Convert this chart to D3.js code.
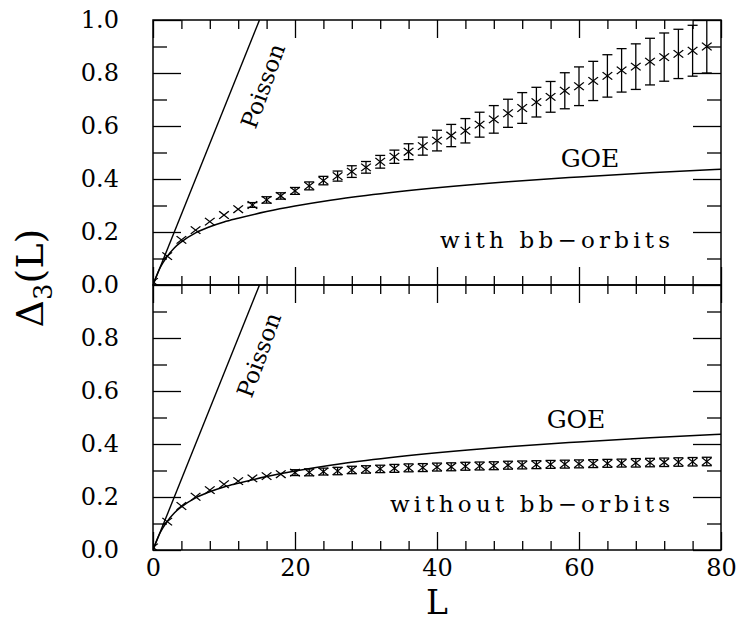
<!DOCTYPE html>
<html>
<head>
<meta charset="utf-8">
<script src="https://cdn.jsdelivr.net/npm/d3@7"></script>
<style>
  body { margin: 0; background: #fff; }
  svg { display: block; }
</style>
</head>
<body>
<script>
// L values of the measured points (both panels)
var Lvals = [0, 2, 4, 6, 8, 10, 12, 14, 16, 18, 20, 22, 24, 26, 28, 30, 32, 34, 36, 38,
             40, 42, 44, 46, 48, 50, 52, 54, 56, 58, 60, 62, 64, 66, 68, 70, 72, 74, 76, 78];

// top panel: with bb-orbits
var withBB = [0.012, 0.109, 0.170, 0.207, 0.239, 0.264, 0.286, 0.302, 0.321, 0.336,
              0.355, 0.374, 0.394, 0.411, 0.428, 0.444, 0.465, 0.484, 0.503, 0.524,
              0.545, 0.564, 0.582, 0.605, 0.625, 0.648, 0.668, 0.690, 0.710, 0.733,
              0.750, 0.770, 0.789, 0.810, 0.824, 0.843, 0.860, 0.872, 0.884, 0.900];
var withBBerr = [0, 0, 0, 0, 0, 0, 0, 0.009, 0.012, 0.012,
                 0.013, 0.015, 0.016, 0.019, 0.022, 0.022, 0.024, 0.025, 0.030, 0.034,
                 0.039, 0.042, 0.046, 0.047, 0.052, 0.053, 0.058, 0.056, 0.058, 0.068,
                 0.073, 0.074, 0.080, 0.082, 0.086, 0.088, 0.091, 0.093, 0.096, 0.100];

// bottom panel: without bb-orbits
var withoutBB = [0.010, 0.107, 0.166, 0.201, 0.226, 0.248, 0.260, 0.270, 0.279, 0.286,
                 0.292, 0.293, 0.296, 0.298, 0.302, 0.304, 0.306, 0.308, 0.310, 0.311,
                 0.313, 0.314, 0.316, 0.317, 0.318, 0.320, 0.321, 0.322, 0.323, 0.324,
                 0.325, 0.326, 0.327, 0.328, 0.329, 0.330, 0.331, 0.332, 0.333, 0.334];
var withoutBBerr = [0, 0, 0, 0, 0, 0, 0, 0, 0, 0,
                    0.011, 0.013, 0.013, 0.014, 0.014, 0.014, 0.014, 0.015, 0.015, 0.015,
                    0.015, 0.015, 0.015, 0.015, 0.015, 0.015, 0.015, 0.015, 0.015, 0.015,
                    0.015, 0.015, 0.015, 0.015, 0.016, 0.016, 0.016, 0.016, 0.016, 0.016];

// GOE curve
var goeL = [0, 0.5, 1, 2, 3, 4, 6, 8, 10, 12, 16, 20, 25, 30, 40, 50, 60, 70, 80];
var goeV = [0, 0.035, 0.065, 0.108, 0.140, 0.163, 0.197, 0.220, 0.238, 0.252,
            0.277, 0.298, 0.320, 0.338, 0.367, 0.390, 0.408, 0.424, 0.437];

// Poisson line
var poissonL = [0, 15];
var poissonV = [0, 1];

var xMajor = [0, 20, 40, 60, 80];
var xMinor = [4, 8, 12, 16, 24, 28, 32, 36, 44, 48, 52, 56, 64, 68, 72, 76];
var yMajorTop = [0, 0.2, 0.4, 0.6, 0.8, 1.0];
var yMajorBot = [0, 0.2, 0.4, 0.6, 0.8];
var yMinor = [0.1, 0.3, 0.5, 0.7, 0.9];

var W = 737, H = 623;
var x0 = 153, x1 = 721;
var serif = "'DejaVu Serif', serif";

var svg = d3.select("body").append("svg")
            .attr("width", W)
            .attr("height", H);

var x = d3.scaleLinear().domain([0, 80]).range([x0, x1]);

var panels = [
  { top: 20, bottom: 285, vals: withBB, errs: withBBerr, yTicks: yMajorTop,
    label: "with bb\u2212orbits", labelLen: 230, labelY: 248, goeX: 590, goeY: 167,
    poisX: 263, poisY: 86, id: "cTop" },
  { top: 285, bottom: 550, vals: withoutBB, errs: withoutBBerr, yTicks: yMajorBot,
    label: "without bb\u2212orbits", labelLen: 280, labelY: 512, goeX: 576, goeY: 428,
    poisX: 259, poisY: 355, id: "cBot" }
];

panels.forEach(function(p, pi) {
  var y = d3.scaleLinear().domain([0, 1]).range([p.bottom, p.top]);
  var g = svg.append("g");

  g.append("clipPath").attr("id", p.id)
    .append("rect")
    .attr("x", x0).attr("y", p.top)
    .attr("width", x1 - x0).attr("height", p.bottom - p.top);

  // ticks, all pointing inward
  var ax = g.append("g");
  ax.append("g").attr("transform", "translate(" + x0 + ",0)")
    .call(d3.axisLeft(y).tickValues(p.yTicks).tickSize(-28).tickPadding(34).tickFormat(d3.format(".1f")));
  ax.append("g").attr("transform", "translate(" + x0 + ",0)")
    .call(d3.axisLeft(y).tickValues(yMinor).tickSize(-14).tickFormat(""));
  ax.append("g").attr("transform", "translate(" + x1 + ",0)")
    .call(d3.axisRight(y).tickValues(p.yTicks).tickSize(-28).tickFormat(""));
  ax.append("g").attr("transform", "translate(" + x1 + ",0)")
    .call(d3.axisRight(y).tickValues(yMinor).tickSize(-14).tickFormat(""));
  ax.append("g").attr("transform", "translate(0," + p.top + ")")
    .call(d3.axisTop(x).tickValues(xMajor).tickSize(-18).tickFormat(""));
  ax.append("g").attr("transform", "translate(0," + p.top + ")")
    .call(d3.axisTop(x).tickValues(xMinor).tickSize(-9).tickFormat(""));
  ax.append("g").attr("transform", "translate(0," + p.bottom + ")")
    .call(d3.axisBottom(x).tickValues(xMajor).tickSize(-18).tickPadding(9)
      .tickFormat(pi == 1 ? d3.format("d") : ""));
  ax.append("g").attr("transform", "translate(0," + p.bottom + ")")
    .call(d3.axisBottom(x).tickValues(xMinor).tickSize(-9).tickFormat(""));
  ax.selectAll(".domain").remove();
  ax.selectAll("line").attr("stroke", "#000").attr("stroke-width", 1.3);
  ax.selectAll("text")
    .attr("fill", "#000")
    .attr("font-family", serif)
    .attr("font-size", 24);

  // frame
  g.append("rect")
    .attr("x", x0).attr("y", p.top)
    .attr("width", x1 - x0).attr("height", p.bottom - p.top)
    .attr("fill", "none").attr("stroke", "#000").attr("stroke-width", 1.5);

  var plot = g.append("g").attr("clip-path", "url(#" + p.id + ")");

  // Poisson line
  plot.append("path")
    .datum(d3.zip(poissonL, poissonV))
    .attr("d", d3.line().x(function(d) { return x(d[0]); }).y(function(d) { return y(d[1]); }))
    .attr("fill", "none").attr("stroke", "#000").attr("stroke-width", 1.4);

  // GOE curve
  plot.append("path")
    .datum(d3.zip(goeL, goeV))
    .attr("d", d3.line().curve(d3.curveMonotoneX)
      .x(function(d) { return x(d[0]); }).y(function(d) { return y(d[1]); }))
    .attr("fill", "none").attr("stroke", "#000").attr("stroke-width", 1.5);

  var pts = d3.zip(Lvals, p.vals, p.errs);

  // error bars
  var eb = plot.selectAll(".eb").data(pts.filter(function(d) { return d[2] > 0; }))
    .enter().append("g").attr("class", "eb")
    .attr("stroke", "#000").attr("stroke-width", 1.3);
  eb.append("line")
    .attr("x1", function(d) { return x(d[0]); }).attr("x2", function(d) { return x(d[0]); })
    .attr("y1", function(d) { return y(d[1] - d[2]); }).attr("y2", function(d) { return y(d[1] + d[2]); });
  eb.append("line")
    .attr("x1", function(d) { return x(d[0]) - 5; }).attr("x2", function(d) { return x(d[0]) + 5; })
    .attr("y1", function(d) { return y(d[1] - d[2]); }).attr("y2", function(d) { return y(d[1] - d[2]); });
  eb.append("line")
    .attr("x1", function(d) { return x(d[0]) - 5; }).attr("x2", function(d) { return x(d[0]) + 5; })
    .attr("y1", function(d) { return y(d[1] + d[2]); }).attr("y2", function(d) { return y(d[1] + d[2]); });

  // x markers
  var cross = d3.symbol().type(d3.symbolX).size(48);
  plot.selectAll(".pt").data(pts).enter().append("path")
    .attr("class", "pt")
    .attr("d", cross)
    .attr("transform", function(d) { return "translate(" + x(d[0]) + "," + y(d[1]) + ") scale(1.15,0.9)"; })
    .attr("fill", "none").attr("stroke", "#000").attr("stroke-width", 1.2);

  // labels
  g.append("text")
    .attr("x", 670 - p.labelLen).attr("y", p.labelY)
    .attr("font-family", serif).attr("font-size", 23)
    .attr("textLength", p.labelLen).attr("lengthAdjust", "spacing")
    .text(p.label);
  g.append("text")
    .attr("x", p.goeX).attr("y", p.goeY)
    .attr("text-anchor", "middle")
    .attr("font-family", serif).attr("font-size", 25)
    .text("GOE");
  g.append("text")
    .attr("transform", "translate(" + p.poisX + "," + p.poisY + ") rotate(-70)")
    .attr("text-anchor", "middle").attr("dy", "0.35em")
    .attr("font-family", serif).attr("font-size", 23)
    .text("Poisson");
});

// axis titles
svg.append("text")
  .attr("x", x(40)).attr("y", 614)
  .attr("text-anchor", "middle")
  .attr("font-family", serif).attr("font-size", 33)
  .text("L");

var yl = svg.append("text")
  .attr("transform", "translate(43,278) rotate(-90)")
  .attr("text-anchor", "middle")
  .attr("font-family", serif).attr("font-size", 38);
yl.append("tspan").text("\u0394");
yl.append("tspan").attr("font-size", 26).attr("dy", 9).text("3");
yl.append("tspan").attr("dy", -9).text("(L)");
</script>
</body>
</html>
